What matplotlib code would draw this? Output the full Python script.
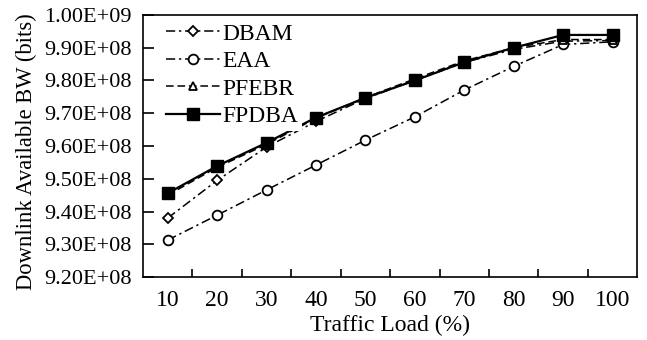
import numpy as np
import matplotlib
matplotlib.use('Agg')
import matplotlib.pyplot as plt
from matplotlib.ticker import FuncFormatter

plt.rcParams['font.family'] = ['Liberation Serif', 'DejaVu Serif']

loads = [10, 20, 30, 40, 50, 60, 70, 80, 90, 100]
dbam = [9.380e8, 9.495e8, 9.597e8, 9.675e8, 9.745e8, 9.800e8, 9.855e8, 9.895e8, 9.920e8, 9.922e8]
eaa = [9.313e8, 9.389e8, 9.466e8, 9.542e8, 9.618e8, 9.689e8, 9.771e8, 9.843e8, 9.910e8, 9.918e8]
pfebr = [9.450e8, 9.535e8, 9.605e8, 9.685e8, 9.748e8, 9.805e8, 9.860e8, 9.900e8, 9.925e8, 9.925e8]
fpdba = [9.456e8, 9.539e8, 9.610e8, 9.687e8, 9.747e8, 9.800e8, 9.856e8, 9.900e8, 9.939e8, 9.939e8]

fig = plt.figure(figsize=(6.47, 3.40), dpi=100)
ax = fig.add_axes([0.221, 0.185, 0.764, 0.771])

dashdot = (0, (6, 2.5, 1.5, 2.5))
ax.plot(loads, dbam, color='black', lw=1.1, ls=dashdot, marker='D', ms=5,
        mfc='white', mec='black', mew=1.3, label='DBAM')
ax.plot(loads, eaa, color='black', lw=1.1, ls=dashdot, marker='o', ms=7,
        mfc='white', mec='black', mew=1.3, label='EAA')
ax.plot(loads, pfebr, color='black', lw=1.1, ls=(0, (5, 2.5)), marker='^', ms=6,
        mfc='white', mec='black', mew=1.3, label='PFEBR')
ax.plot(loads, fpdba, color='black', lw=1.6, ls='-', marker='s', ms=8.5,
        mfc='black', mec='black', label='FPDBA')

ax.set_xlim(5, 105)
ax.set_ylim(9.2e8, 1.0e9)
ax.set_xticks(loads)
ax.set_xticks(np.arange(15, 100, 10), minor=True)
ax.tick_params(axis='x', which='major', length=0, pad=9, labelsize=17)
ax.tick_params(axis='x', which='minor', direction='in', length=6, width=1.2)
ax.set_yticks(np.arange(9.2e8, 1.0001e9, 1e7))
ax.yaxis.set_major_formatter(FuncFormatter(lambda v, p: '%.2E' % v))
ax.tick_params(axis='y', direction='in', length=8, width=1.2, labelsize=16, pad=8)
for s in ax.spines.values():
    s.set_linewidth(1.2)

ax.set_xlabel('Traffic Load (%)', fontsize=17, labelpad=3)
ax.set_ylabel('Downlink Available BW (bits)', fontsize=16.3)
ax.yaxis.set_label_coords(-0.215, 0.477)

leg = ax.legend(loc='upper left', fontsize=17, handlelength=2.3, frameon=True,
                fancybox=False, edgecolor='none', facecolor='white', framealpha=1,
                borderpad=0.15, labelspacing=0.25, handletextpad=0.1,
                borderaxespad=0.2, bbox_to_anchor=(0.03, 1.0))

fig.savefig('out.png', dpi=100)
